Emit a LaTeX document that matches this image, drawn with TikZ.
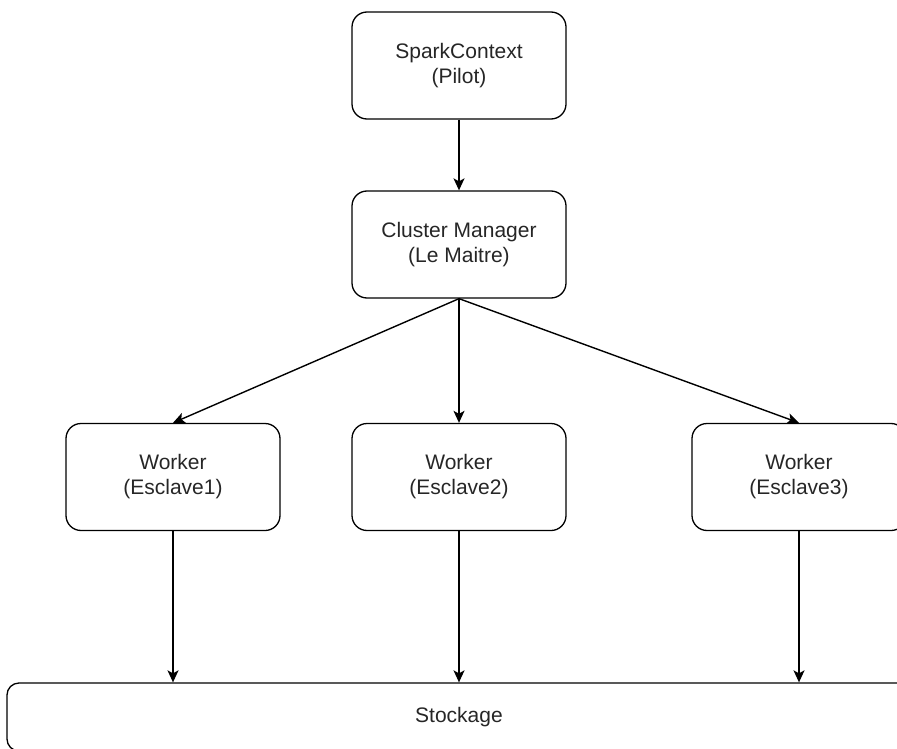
\documentclass[tikz,border=0pt]{standalone}
\usepackage{fontspec}
\setmainfont{Liberation Sans}
\usetikzlibrary{arrows.meta}
\begin{document}
\begin{tikzpicture}[x=1pt,y=-1pt,
  box/.style={draw=black, line width=1.3pt, rounded corners=15pt,
    minimum width=214pt, minimum height=107pt, inner sep=0pt,
    align=center, text=black!85, font=\fontsize{21}{25}\selectfont},
  link/.style={draw=black, line width=1.4pt,
    -{Stealth[length=12pt,width=11pt,inset=3pt]}}]
  \useasboundingbox (0,0) rectangle (897,749);
  \clip (0,0) rectangle (897,749);

  % driver and master
  \node[box] (spark) at (459,65.5) {SparkContext\\(Pilot)};
  \node[box] (cm) at (459,244.5) {Cluster Manager\\(Le Maitre)};

  % workers
  \node[box] (w1) at (173,477) {Worker\\(Esclave1)};
  \node[box] (w2) at (459,477) {Worker\\(Esclave2)};
  \node[box] (w3) at (799,477) {Worker\\(Esclave3)};

  % shared storage
  \node[box, rounded corners=12pt, minimum width=904pt, minimum height=68pt]
    (st) at (459,717) {Stockage};

  \draw[link] (spark.south) -- (cm.north);
  \draw[link] (cm.south) -- (w1.north);
  \draw[link] (cm.south) -- (w2.north);
  \draw[link] (cm.south) -- (w3.north);
  \draw[link] (w1.south) -- (w1.south |- st.north);
  \draw[link] (w2.south) -- (w2.south |- st.north);
  \draw[link] (w3.south) -- (w3.south |- st.north);
\end{tikzpicture}
\end{document}
